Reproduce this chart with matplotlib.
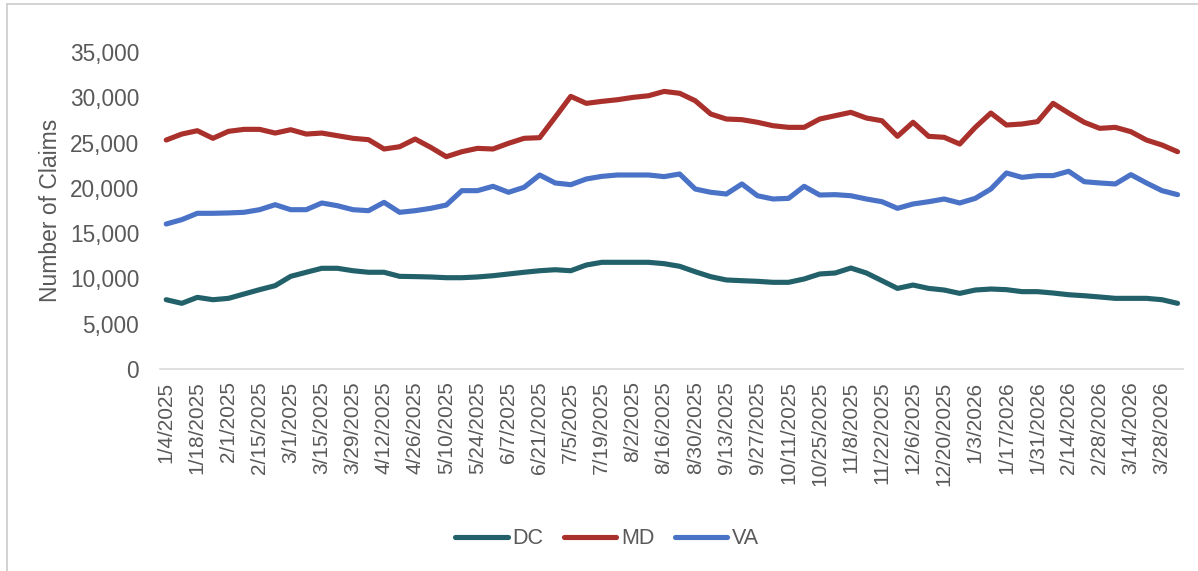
import matplotlib
matplotlib.use("Agg")
import matplotlib.pyplot as plt
import pandas as pd
from matplotlib.lines import Line2D

plt.rcParams['font.family'] = ['Liberation Sans', 'DejaVu Sans']

weeks = pd.date_range("2025-01-04", periods=66, freq="7D")
week_labels = [f"{d.month}/{d.day}/{d.year}" for d in weeks]

dc = [7650, 7250, 7910, 7650, 7800, 8280, 8760, 9200, 10230, 10680,
      11120, 11120, 10850, 10680, 10680, 10230, 10200, 10160, 10080, 10080,
      10160, 10300, 10490, 10680, 10850, 10960, 10850, 11480, 11780, 11780,
      11780, 11780, 11630, 11340, 10740, 10190, 9830, 9750, 9680, 9570,
      9570, 9940, 10490, 10600, 11150, 10600, 9750, 8900, 9270, 8900,
      8720, 8350, 8720, 8830, 8760, 8540, 8540, 8390, 8200, 8090,
      7950, 7800, 7800, 7800, 7650, 7250]

md = [25280, 25940, 26310, 25470, 26240, 26460, 26460, 26050, 26420, 25940,
      26050, 25760, 25470, 25320, 24290, 24540, 25390, 24470, 23440, 23990,
      24360, 24290, 24920, 25470, 25540, 27800, 30100, 29330, 29550, 29730,
      29990, 30170, 30650, 30440, 29620, 28150, 27600, 27530, 27240, 26860,
      26680, 26680, 27600, 27970, 28340, 27710, 27410, 25690, 27240, 25690,
      25580, 24840, 26680, 28260, 26940, 27050, 27310, 29330, 28260, 27240,
      26570, 26680, 26200, 25280, 24730, 23990]

va = [16010, 16490, 17190, 17190, 17230, 17300, 17590, 18140, 17590, 17590,
      18330, 18030, 17590, 17480, 18400, 17300, 17480, 17740, 18100, 19690,
      19690, 20170, 19510, 20060, 21420, 20540, 20350, 20980, 21270, 21420,
      21420, 21420, 21240, 21530, 19870, 19510, 19320, 20430, 19130, 18770,
      18840, 20170, 19210, 19250, 19130, 18770, 18470, 17740, 18220, 18470,
      18770, 18330, 18840, 19870, 21640, 21160, 21350, 21350, 21830, 20680,
      20540, 20430, 21460, 20540, 19690, 19250]

series_names = ["DC", "MD", "VA"]
series_colors = ["#22606A", "#AA302C", "#4A72C6"]

W, H = 1198, 571
fig = plt.figure(figsize=(W / 100, H / 100), dpi=100)
ax = fig.add_axes([160 / W, 1 - 369 / H, (1183 - 160) / W, (369 - 52) / H])

x = list(range(len(week_labels)))
for vals, name, col in zip([dc, md, va], series_names, series_colors):
    ax.plot(x, vals, color=col, lw=3.7, label=name, solid_capstyle='round',
            solid_joinstyle='round')

ax.set_xlim(-0.4, len(x) - 1 + 0.35)
ax.set_ylim(0, 35000)
ax.set_yticks(range(0, 35001, 5000))
ax.set_yticklabels([f"{v:,}" for v in range(0, 35001, 5000)])
ax.set_xticks(x[::2])
ax.set_xticklabels(week_labels[::2], rotation=90)

txt = "#595959"
ax.tick_params(axis='y', length=0, pad=15, labelsize=16.3, labelcolor=txt)
ax.tick_params(axis='x', length=0, pad=9, labelsize=15, labelcolor=txt)
for s in ["top", "right", "left"]:
    ax.spines[s].set_visible(False)
ax.spines["bottom"].set_color("#D9D9D9")
ax.spines["bottom"].set_linewidth(1.2)
ax.set_ylabel("Number of Claims", fontsize=16.5, color=txt)
ax.yaxis.set_label_coords((62 - 160) / (1183 - 160), 0.5)

leg = fig.legend(loc="center", bbox_to_anchor=(607 / W, 1 - 539 / H), ncol=3,
                 frameon=False, fontsize=15.5, handlelength=2.45,
                 handletextpad=0.2, columnspacing=0.95)
for t in leg.get_texts():
    t.set_color(txt)

border = "#CFCFCF"
fig.add_artist(Line2D([7 / W, 1.0], [1 - 4 / H, 1 - 4 / H], transform=fig.transFigure,
                      color=border, lw=1.3))
fig.add_artist(Line2D([7 / W, 7 / W], [0.0, 1 - 4 / H], transform=fig.transFigure,
                      color=border, lw=1.3))

fig.savefig("out.png", dpi=100)
